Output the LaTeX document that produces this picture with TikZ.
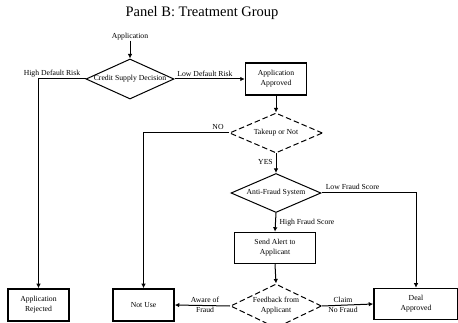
\documentclass[tikz,border=0pt]{standalone}
\usepackage{fontspec}
\setmainfont{Liberation Serif}
\usetikzlibrary{shapes.geometric,arrows.meta}
\begin{document}
\begin{tikzpicture}[x=1pt,y=-1pt,
  every node/.style={font=\fontsize{7.7}{9.8}\selectfont, inner sep=0pt, align=center},
  box/.style={draw, line width=1.5pt},
  dia/.style={diamond, draw, line width=1pt, inner sep=0pt},
  ddia/.style={dia, dash pattern=on 5.5pt off 3pt},
  arr/.style={line width=1pt, -{Latex[length=4.5pt,width=4.5pt]}}
]
\useasboundingbox (0,0) rectangle (458,323);
\node[font=\fontsize{14.5}{17}\selectfont] (title) at (202,13) {Panel B: Treatment Group};
\node (app) at (130,37) {Application};
\node[dia, minimum width=88pt, minimum height=40pt, label=center:{Credit Supply Decision}] (csd) at (130,79) {};
\node[box, minimum width=61pt, minimum height=32pt] (aa) at (276,79) {Application\\Approved};
\node[ddia, minimum width=93pt, minimum height=40pt, label=center:{Takeup or Not}] (tk) at (276,133) {};
\node[dia, minimum width=90pt, minimum height=39pt, label=center:{Anti-Fraud System}] (af) at (276,193) {};
\node[box, minimum width=81pt, minimum height=31pt] (alert) at (275,248) {Send Alert to\\Applicant};
\node[ddia, minimum width=91pt, minimum height=44pt, label={center:{Feedback from\\Applicant}}] (fb) at (276,306) {};
\node[box, minimum width=61pt, minimum height=32pt] (rej) at (38.5,305) {Application\\Rejected};
\node[box, minimum width=61pt, minimum height=32pt] (nu) at (143.5,305) {Not Use};
\node[box, minimum width=84pt, minimum height=31pt] (deal) at (416,304) {Deal\\Approved};

\draw[arr] (app) -- (csd.north);
\draw[arr] (csd.west) -| (rej.north);
\draw[arr] (csd.east) -- (aa.west);
\draw[arr] (aa.south) -- (tk.north);
\draw[arr] (tk.west) -| (nu.north);
\draw[arr] (tk.south) -- (af.north);
\draw[arr] (af.east) -| (deal.north);
\draw[arr] (af.south) -- (alert.north);
\draw[arr] (alert.south) -- (fb.north);
\draw[arr] (fb.west) -- (nu.east);
\draw[arr] (fb.east) -- (deal.west);

\node (lhd) at (52,74) {High Default Risk};
\node (lld) at (205,74) {Low Default Risk};
\node (lno) at (218,127) {NO};
\node (lyes) at (265.5,162) {YES};
\node (llf) at (352.5,186.5) {Low Fraud Score};
\node (lhf) at (307,222.5) {High Fraud Score};
\node (law) at (205,305) {Aware of\\Fraud};
\node (lcl) at (343,305) {Claim\\No Fraud};
\end{tikzpicture}
\end{document}
